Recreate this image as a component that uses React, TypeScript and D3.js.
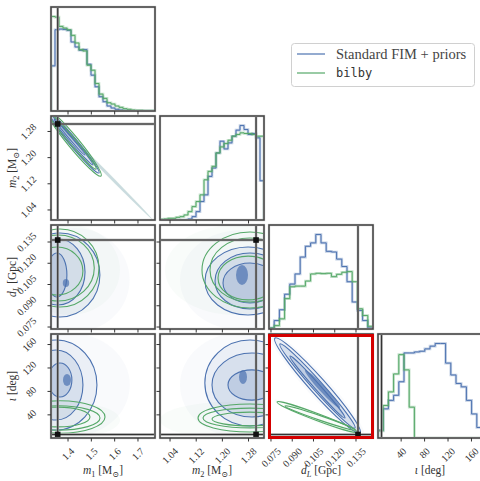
import React from "react";
import * as d3 from "d3";

const FIM = "#4c72b0";
const BILBY = "#55a868";

// parameters: m1, m2, dL, iota
const paramDomains = [[1.327, 1.773], [1.0093, 1.3273], [0.0736, 0.147], [0.5, 178]];
const truths = [1.3557, 1.303, 0.1364, 6.5];
const tickValues = [[1.4, 1.5, 1.6, 1.7], [1.04, 1.12, 1.2, 1.28], [0.075, 0.09, 0.105, 0.12, 0.135], [40, 80, 120, 160]];
const tickLabels = [["1.4", "1.5", "1.6", "1.7"], ["1.04", "1.12", "1.20", "1.28"], ["0.075", "0.090", "0.105", "0.120", "0.135"], ["40", "80", "120", "160"]];

// 1D histograms (counts per bin over each axis range)
const m1HistFim = [136, 245, 247, 246, 243, 208, 193, 183, 185, 141, 108, 73, 43, 28, 15, 9, 5, 3, 1, 0, 0, 0, 0, 0, 0, 0];
const m1HistBilby = [285, 283, 255, 250, 245, 228, 205, 185, 181, 138, 123, 83, 51, 38, 25, 21, 15, 11, 7, 5, 3, 2, 2, 1, 1, 1];
const m2HistFim = [0, 0, 0, 0, 0, 0, 0, 3, 10, 25, 55, 75, 130, 155, 200, 235, 212, 230, 250, 268, 282, 270, 255, 258, 245, 117];
const m2HistBilby = [2, 3, 5, 5, 8, 10, 15, 25, 40, 55, 75, 120, 145, 160, 200, 218, 228, 238, 250, 255, 260, 258, 258, 255, 250, 250];
const dLHistFim = [3, 25, 57, 103, 133, 163, 213, 245, 255, 280, 255, 230, 228, 207, 185, 140, 80, 55, 25, 3];
const dLHistBilby = [3, 10, 30, 90, 125, 127, 127, 142, 163, 165, 164, 165, 155, 162, 168, 170, 140, 60, 40, 8];
const iotaHistFim = [23, 86, 111, 126, 166, 251, 251, 254, 256, 263, 271, 279, 279, 221, 186, 161, 151, 111, 71, 31];
const iotaHistBilby = [21, 96, 136, 189, 246, 201, 91, 0, 0, 0, 0, 0, 0, 0, 0, 0, 0, 0, 0, 0];

// 2D contours as ellipses: [x1, y1, x2, y2, minor/major], end points of the major axis in data units
const m1m2FimCloud = [[1.3656, 1.2967, 1.7601, 1.0123, 0.02]];
const m1m2FimLevels = [[1.3098, 1.3426, 1.5328, 1.153, 0.1], [1.3227, 1.3304, 1.5071, 1.1775, 0.07], [1.3399, 1.3181, 1.4728, 1.208, 0.05]];
const m1m2BilbyCloud = [[1.3656, 1.2967, 1.7601, 1.0123, 0.025]];
const m1m2BilbyLevels = [[1.3056, 1.3487, 1.5414, 1.1438, 0.13], [1.314, 1.338, 1.52, 1.165, 0.09]];

const m1dLFimCloud = [[1.4299, 0.14488, 1.4299, 0.07149, 1.05]];
const m1dLFimLevels = [[1.3656, 0.14135, 1.3656, 0.08207, 0.95], [1.357, 0.1371, 1.357, 0.09054, 0.82], [1.3527, 0.12724, 1.3527, 0.09619, 0.45]];
const m1dLFimCores = [[1.3913, 0.10889, 1.3913, 0.10325, 0.8]];
const m1dLBilbyCloud = [[1.4085, 0.147, 1.4085, 0.08349, 1.11]];
const m1dLBilbyLevels = [[1.3656, 0.14418, 1.3656, 0.08913, 1.0], [1.357, 0.13994, 1.357, 0.09337, 1.1], [1.3527, 0.13147, 1.3527, 0.0976, 1.08]];

const m1iotaFimCloud = [[1.4085, 179.7, 1.4085, 2.2, 1.15]];
const m1iotaFimLevels = [[1.3484, 167.76, 1.3484, 14.15, 0.91], [1.3484, 150.69, 1.3484, 31.2, 0.77], [1.3656, 128.5, 1.3656, 70.5, 0.7]];
const m1iotaFimCores = [[1.3956, 109.7, 1.3956, 89.2, 0.67]];
const m1iotaBilbyCloud = [[1.1512, 31.22, 1.6229, 31.22, 0.33]];
const m1iotaBilbyLevels = [[1.1726, 36.34, 1.5586, 36.34, 0.36], [1.1769, 34.63, 1.5371, 34.63, 0.29], [1.2198, 36.34, 1.4942, 36.34, 0.31]];

const m2dLFimCloud = [[1.0705, 0.10819, 1.4374, 0.10819, 0.83]];
const m2dLFimLevels = [[1.1469, 0.1075, 1.4099, 0.1075, 0.79], [1.1775, 0.1075, 1.3916, 0.1075, 0.8], [1.202, 0.10607, 1.3671, 0.10607, 0.74]];
const m2dLFimCores = [[1.2601, 0.11877, 1.2601, 0.10466, 0.6]];
const m2dLBilbyCloud = [[1.0246, 0.11524, 1.4527, 0.11524, 0.64]];
const m2dLBilbyLevels = [[1.1377, 0.11524, 1.4313, 0.11524, 0.79], [1.1622, 0.11524, 1.4069, 0.11524, 0.8], [1.1867, 0.1096, 1.3702, 0.1096, 0.73]];

const m2iotaFimCloud = [[1.0705, 90.95, 1.4374, 90.95, 0.87]];
const m2iotaFimLevels = [[1.2845, 167.76, 1.2845, 20.98, 1.05], [1.2906, 145.57, 1.2906, 36.34, 1.25], [1.2172, 90.95, 1.364, 90.95, 0.63]];
const m2iotaFimCores = [[1.2631, 116.56, 1.2631, 92.66, 0.57]];
const m2iotaBilbyCloud = [[1.0093, 31.22, 1.4374, 31.22, 0.26]];
const m2iotaBilbyLevels = [[1.1255, 34.63, 1.4435, 34.63, 0.27], [1.1408, 34.63, 1.4283, 34.63, 0.21], [1.1683, 32.92, 1.4007, 32.92, 0.18]];

const dLiotaFimCloud = [[0.07501, 178, 0.14064, 2.2, 0.16]];
const dLiotaFimLevels = [[0.07783, 171.17, 0.13782, 9.03, 0.125], [0.08136, 160.93, 0.13429, 17.56, 0.09], [0.08842, 140.45, 0.12723, 34.63, 0.07]];
const dLiotaFimCores = [[0.09901, 116.56, 0.12371, 51.7, 0.12]];
const dLiotaBilbyCloud = [[0.07713, 65.35, 0.1392, 3.91, 0.1]];
const dLiotaBilbyLevels = [[0.07925, 61.94, 0.1357, 10.74, 0.08], [0.08489, 55.11, 0.13457, 14.15, 0.06]];

const SIZE = 104;
const STEP = 109;
const LEFT = 51;
const TOP = 7;
const SERIF = "'Liberation Serif', 'DejaVu Serif', serif";

const xs = paramDomains.map((d, k) => d3.scaleLinear().domain(d).range([LEFT + STEP * k, LEFT + STEP * k + SIZE]));
const ys = paramDomains.map((d, k) => d3.scaleLinear().domain(d).range([TOP + STEP * k + SIZE, TOP + STEP * k]));

const hists = [
  [m1HistFim, m1HistBilby],
  [m2HistFim, m2HistBilby],
  [dLHistFim, dLHistBilby],
  [iotaHistFim, iotaHistBilby],
];

const panels2d = [
  { row: 1, col: 0, fim: { cloud: m1m2FimCloud, levels: m1m2FimLevels, cores: [] }, bilby: { cloud: m1m2BilbyCloud, levels: m1m2BilbyLevels }, tail: true },
  { row: 2, col: 0, fim: { cloud: m1dLFimCloud, levels: m1dLFimLevels, cores: m1dLFimCores }, bilby: { cloud: m1dLBilbyCloud, levels: m1dLBilbyLevels } },
  { row: 3, col: 0, fim: { cloud: m1iotaFimCloud, levels: m1iotaFimLevels, cores: m1iotaFimCores }, bilby: { cloud: m1iotaBilbyCloud, levels: m1iotaBilbyLevels } },
  { row: 2, col: 1, fim: { cloud: m2dLFimCloud, levels: m2dLFimLevels, cores: m2dLFimCores }, bilby: { cloud: m2dLBilbyCloud, levels: m2dLBilbyLevels } },
  { row: 3, col: 1, fim: { cloud: m2iotaFimCloud, levels: m2iotaFimLevels, cores: m2iotaFimCores }, bilby: { cloud: m2iotaBilbyCloud, levels: m2iotaBilbyLevels } },
  { row: 3, col: 2, fim: { cloud: dLiotaFimCloud, levels: dLiotaFimLevels, cores: dLiotaFimCores }, bilby: { cloud: dLiotaBilbyCloud, levels: dLiotaBilbyLevels } },
];

function ellipse(e, sx, sy, props, key) {
  const [x1, y1, x2, y2, a] = e;
  const px1 = sx(x1), py1 = sy(y1), px2 = sx(x2), py2 = sy(y2);
  const cx = (px1 + px2) / 2, cy = (py1 + py2) / 2;
  const rx = Math.hypot(px2 - px1, py2 - py1) / 2;
  const ang = (Math.atan2(py2 - py1, px2 - px1) * 180) / Math.PI;
  return <ellipse key={key} cx={cx} cy={cy} rx={rx} ry={rx * a} transform={`rotate(${ang} ${cx} ${cy})`} {...props} />;
}

function histPath(vals, k, ymax) {
  const [lo, hi] = paramDomains[k];
  const n = vals.length;
  const edges = d3.range(n + 1).map((i) => lo + ((hi - lo) * i) / n);
  const y = d3.scaleLinear().domain([0, ymax]).range([TOP + STEP * k + SIZE, TOP + STEP * k]);
  const pts = [[edges[0], 0], ...vals.map((v, i) => [edges[i], v]), [edges[n], vals[n - 1]], [edges[n], 0]];
  return d3.line().x((p) => xs[k](p[0])).y((p) => y(p[1])).curve(d3.curveStepAfter)(pts);
}

// rough width of a tick label in px
const textW = (s, fs) => s.split("").reduce((a, c) => a + (c === "." ? 0.25 : 0.5), 0) * fs;

const Frame = ({ x, y }) => (
  <g>
    <rect x={x} y={y} width={SIZE} height={SIZE} fill="none" stroke="#999" strokeWidth={2.2} />
    <rect x={x} y={y} width={SIZE} height={SIZE} fill="none" stroke="#333" strokeWidth={1} />
  </g>
);

const TruthLine = (props) => (
  <g>
    <line {...props} stroke="#9a9a9a" strokeWidth={2.4} />
    <line {...props} stroke="#333" strokeWidth={1.1} />
  </g>
);

export default function App() {
  const tickFs = 10;
  const out = [];

  // diagonal histograms
  hists.forEach(([fim, bilby], k) => {
    const x0 = LEFT + STEP * k, y0 = TOP + STEP * k;
    const ymax = 1.1 * Math.max(d3.max(fim), d3.max(bilby));
    const clipId = `clip-d${k}`;
    out.push(
      <g key={`h${k}`}>
        <clipPath id={clipId}><rect x={x0} y={y0} width={SIZE} height={SIZE} /></clipPath>
        <g clipPath={`url(#${clipId})`}>
          {[[fim, FIM], [bilby, BILBY]].map(([v, c], si) => (
            <g key={si}>
              <path d={histPath(v, k, ymax)} fill="none" stroke={c} strokeOpacity={0.35} strokeWidth={2.6} />
              <path d={histPath(v, k, ymax)} fill="none" stroke={c} strokeWidth={1} />
            </g>
          ))}
          <TruthLine x1={xs[k](truths[k])} x2={xs[k](truths[k])} y1={y0} y2={y0 + SIZE} />
        </g>
        <Frame x={x0} y={y0} />
      </g>
    );
  });

  // lower-triangle panels
  panels2d.forEach((p) => {
    const { row, col, fim, bilby, tail } = p;
    const sx = xs[col], sy = ys[row];
    const x0 = LEFT + STEP * col, y0 = TOP + STEP * row;
    const clipId = `clip-${row}-${col}`;
    const fillOp = [0.08, 0.12, 0.17];
    const cloudOp = tail ? 0.2 : 0.035;
    out.push(
      <g key={`p${row}${col}`}>
        <clipPath id={clipId}><rect x={x0} y={y0} width={SIZE} height={SIZE} /></clipPath>
        <g clipPath={`url(#${clipId})`}>
          {fim.cloud.map((e, i) => ellipse(e, sx, sy, { fill: FIM, fillOpacity: cloudOp, stroke: "none" }, `fc${i}`))}
          {bilby.cloud.map((e, i) => ellipse(e, sx, sy, { fill: BILBY, fillOpacity: tail ? 0.12 : 0.035, stroke: "none" }, `bc${i}`))}
          {fim.levels.map((e, i) => ellipse(e, sx, sy, { fill: FIM, fillOpacity: fillOp[i], stroke: "none" }, `ff${i}`))}
          {fim.cores.map((e, i) => ellipse(e, sx, sy, { fill: FIM, fillOpacity: 0.7, stroke: "none" }, `fk${i}`))}
          {fim.levels.map((e, i) => ellipse(e, sx, sy, { fill: "none", stroke: FIM, strokeWidth: 1.1 }, `fl${i}`))}
          {bilby.levels.map((e, i) => ellipse(e, sx, sy, { fill: "none", stroke: BILBY, strokeWidth: 1.1 }, `bl${i}`))}
          <TruthLine x1={sx(truths[col])} x2={sx(truths[col])} y1={y0} y2={y0 + SIZE} />
          <TruthLine x1={x0} x2={x0 + SIZE} y1={sy(truths[row])} y2={sy(truths[row])} />
          <rect x={sx(truths[col]) - 2.8} y={sy(truths[row]) - 2.8} width={5.6} height={5.6} fill="#111" />
        </g>
        <Frame x={x0} y={y0} />
      </g>
    );
  });

  // ticks
  for (let i = 0; i < 4; i++) {
    for (let j = 0; j <= i; j++) {
      const x0 = LEFT + STEP * j, y0 = TOP + STEP * i;
      tickValues[j].forEach((t, ti) => {
        const x = xs[j](t);
        out.push(<line key={`bt${i}${j}${ti}`} x1={x} x2={x} y1={y0 + SIZE} y2={y0 + SIZE + 3.5} stroke="#333" strokeWidth={1} />);
      });
      if (j < i) {
        tickValues[i].forEach((t, ti) => {
          const y = ys[i](t);
          out.push(<line key={`lt${i}${j}${ti}`} x1={x0 - 3.5} x2={x0} y1={y} y2={y} stroke="#333" strokeWidth={1} />);
        });
      }
    }
  }

  // x tick labels (bottom row)
  const bottom = TOP + STEP * 3 + SIZE;
  for (let j = 0; j < 4; j++) {
    tickValues[j].forEach((t, ti) => {
      const s = tickLabels[j][ti];
      const bw = (textW(s, tickFs) + 0.7 * tickFs) / Math.SQRT2;
      const cx = xs[j](t), cy = bottom + 9 + bw / 2;
      out.push(
        <text key={`xl${j}${ti}`} x={0} y={0} transform={`translate(${cx},${cy}) rotate(-45)`} textAnchor="middle" dominantBaseline="central" fontSize={tickFs} fontFamily={SERIF} fill="#333">{s}</text>
      );
    });
  }
  // y tick labels (first column)
  for (let i = 1; i < 4; i++) {
    tickValues[i].forEach((t, ti) => {
      const s = tickLabels[i][ti];
      const bw = (textW(s, tickFs) + 0.7 * tickFs) / Math.SQRT2;
      const cx = LEFT - 14 - bw / 2, cy = ys[i](t);
      out.push(
        <text key={`yl${i}${ti}`} x={0} y={0} transform={`translate(${cx},${cy}) rotate(-45)`} textAnchor="middle" dominantBaseline="central" fontSize={tickFs} fontFamily={SERIF} fill="#333">{s}</text>
      );
    });
  }

  const labelFs = 11.5;
  const axisLabel = (k) => {
    if (k === 0 || k === 1)
      return [
        <tspan key="a" fontStyle="italic">m</tspan>,
        <tspan key="b" dy={3} fontSize={labelFs * 0.72}>{k + 1}</tspan>,
        <tspan key="c" dy={-3}> [M</tspan>,
        <tspan key="d" dy={2.5} fontSize={labelFs * 0.72}>⊙</tspan>,
        <tspan key="e" dy={-2.5}>]</tspan>,
      ];
    if (k === 2)
      return [
        <tspan key="a" fontStyle="italic">d</tspan>,
        <tspan key="b" dy={3} fontSize={labelFs * 0.72} fontStyle="italic">L</tspan>,
        <tspan key="c" dy={-3}> [Gpc]</tspan>,
      ];
    return [<tspan key="a" fontStyle="italic">ι</tspan>, <tspan key="b"> [deg]</tspan>];
  };

  for (let k = 0; k < 4; k++) {
    out.push(
      <text key={`xa${k}`} x={LEFT + STEP * k + SIZE / 2} y={474} textAnchor="middle" fontSize={labelFs} fontFamily={SERIF} fill="#333">{axisLabel(k)}</text>
    );
  }
  for (let k = 1; k < 4; k++) {
    const cy = TOP + STEP * k + SIZE / 2;
    out.push(
      <text key={`ya${k}`} x={0} y={0} transform={`translate(16,${cy}) rotate(-90)`} textAnchor="middle" fontSize={labelFs} fontFamily={SERIF} fill="#333">{axisLabel(k)}</text>
    );
  }

  return (
    <>
      <style>{`body{margin:0}`}</style>
      <svg width={480} height={481} style={{ display: "block", background: "#fff" }}>
        {out}
        <rect x={269.5} y={335.5} width={103} height={102} fill="none" stroke="#d40000" strokeWidth={3} />
        <g>
          <rect x={291.5} y={43.5} width={183} height={43} rx={3} fill="#fff" stroke="#d0d0d0" strokeWidth={1} />
          <line x1={297} x2={325} y1={54} y2={54} stroke={FIM} strokeWidth={1.2} />
          <line x1={297} x2={325} y1={73} y2={73} stroke={BILBY} strokeWidth={1.2} />
          <text x={336} y={54} dominantBaseline="central" fontSize={14.5} fontFamily={SERIF} fill="#444">Standard FIM + priors</text>
          <text x={336} y={73} dominantBaseline="central" fontSize={12} fontFamily="'DejaVu Sans Mono', monospace" fill="#333">bilby</text>
        </g>
      </svg>
    </>
  );
}
